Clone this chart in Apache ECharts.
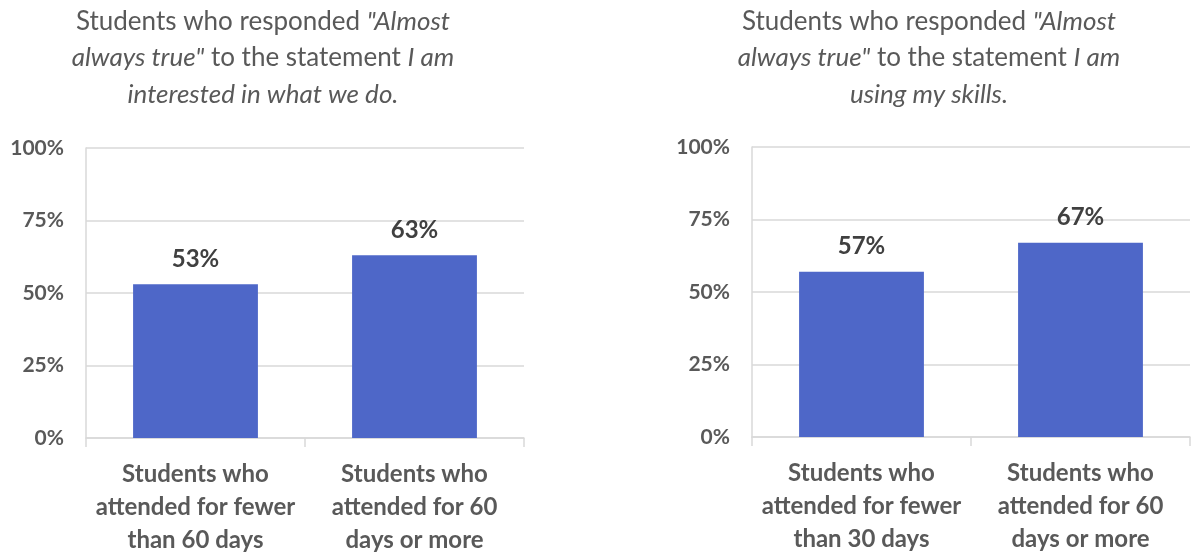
<!DOCTYPE html>
<html>
<head>
<meta charset="utf-8">
<script src="https://cdn.jsdelivr.net/npm/echarts@6/dist/echarts.min.js"></script>
<style>
  html, body { margin: 0; padding: 0; background: #ffffff; }
  #chart { width: 1191px; height: 552px; }
</style>
</head>
<body>
<div id="chart"></div>
<script>
// Survey results: share of students answering "Almost always true"
const leftCategories = ['Students who\nattended for fewer\nthan 60 days', 'Students who\nattended for 60\ndays or more'];
const leftValues = [53, 63];
const rightCategories = ['Students who\nattended for fewer\nthan 30 days', 'Students who\nattended for 60\ndays or more'];
const rightValues = [57, 67];
const yTicks = [0, 25, 50, 75, 100];

const leftTitle = 'Students who responded {i|"Almost}\n{i|always true"} to the statement {i|I am}\n{i|interested in what we do.}';
const rightTitle = 'Students who responded {i|"Almost}\n{i|always true"} to the statement {i|I am}\n{i|using my skills.}';

const BAR = '#4E67C8';
const GRID = '#D9D9D9';
const AXIS_TEXT = '#595959';
const FONT = 'Lato, "Open Sans", sans-serif';

function titleStyle() {
  return {
    fontFamily: FONT, fontSize: 26, fontWeight: 'normal', color: AXIS_TEXT, lineHeight: 36.5,
    rich: { i: { fontFamily: FONT, fontSize: 26, fontWeight: 'normal', fontStyle: 'italic', color: AXIS_TEXT, lineHeight: 36.5 } }
  };
}

function yAxis(gridIndex) {
  return {
    type: 'value', gridIndex, min: yTicks[0], max: yTicks[yTicks.length - 1], interval: 25,
    axisLine: { show: true, lineStyle: { color: GRID, width: 1.5 } },
    axisTick: { show: false },
    splitLine: { lineStyle: { color: GRID, width: 1.5 } },
    axisLabel: { formatter: '{value}%', color: AXIS_TEXT, fontFamily: FONT, fontWeight: 'bold', fontSize: 21, margin: 22 }
  };
}

function xAxis(gridIndex, cats) {
  return {
    type: 'category', gridIndex, data: cats,
    axisLine: { lineStyle: { color: GRID, width: 1.5 } },
    axisTick: { show: true, length: 9, lineStyle: { color: GRID, width: 1.5 } },
    axisLabel: { color: AXIS_TEXT, fontFamily: FONT, fontWeight: 'bold', fontSize: 24, lineHeight: 33, margin: 20, interval: 0 }
  };
}

function bars(idx, values) {
  return {
    type: 'bar', xAxisIndex: idx, yAxisIndex: idx, data: values, barWidth: '57%',
    itemStyle: { color: BAR },
    label: { show: true, position: 'top', distance: 13, formatter: '{c}%', color: '#404040', fontFamily: FONT, fontWeight: 'bold', fontSize: 24 }
  };
}

const chart = echarts.init(document.getElementById('chart'), null, { renderer: 'canvas' });
chart.setOption({
  animation: false,
  backgroundColor: '#ffffff',
  title: [
    { text: leftTitle, left: 258, top: -2, textAlign: 'center', textStyle: titleStyle() },
    { text: rightTitle, left: 924, top: -2, textAlign: 'center', textStyle: titleStyle() }
  ],
  grid: [
    { left: 86, right: 667, top: 148, bottom: 114, containLabel: false, outerBoundsMode: 'none' },
    { left: 752, right: 1, top: 147, bottom: 115, containLabel: false, outerBoundsMode: 'none' }
  ],
  xAxis: [xAxis(0, leftCategories), xAxis(1, rightCategories)],
  yAxis: [yAxis(0), yAxis(1)],
  series: [bars(0, leftValues), bars(1, rightValues)]
});
</script>
</body>
</html>
